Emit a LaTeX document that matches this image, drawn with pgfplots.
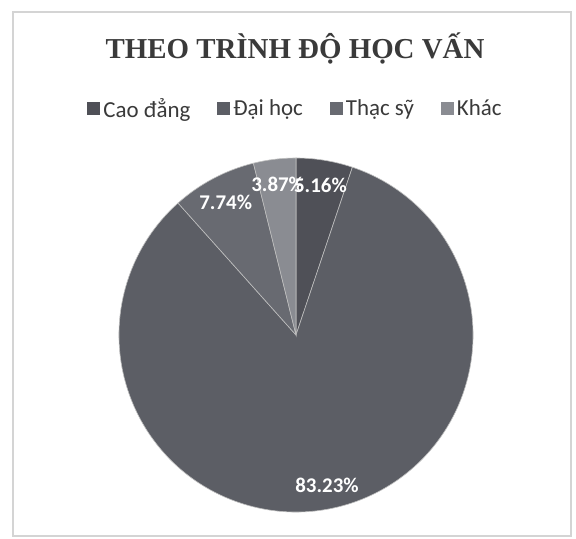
\documentclass[border=0pt]{standalone}
\usepackage{fontspec}
\setmainfont{Carlito}
\newfontfamily\titlefont{Liberation Serif}
\usepackage{pgfplots}
\pgfplotsset{compat=1.18}
\definecolor{caodang}{HTML}{4F5057}
\definecolor{daihoc}{HTML}{5C5E65}
\definecolor{thacsy}{HTML}{686A71}
\definecolor{khac}{HTML}{8A8C92}
\definecolor{framegray}{HTML}{D4D4D4}
\definecolor{textgray}{HTML}{3A3A3A}

\begin{document}
\begin{tikzpicture}[
    slice/.style={draw=white!50!gray,line width=0.6bp},
    lbl/.style={text=white,font=\bfseries\fontsize{21}{24}\selectfont},
  ]
  \useasboundingbox (0,0) rectangle (576bp,539bp);
  \fill[white] (0,0) rectangle (576bp,539bp);
  \draw[framegray,line width=1.2bp] (13bp,3bp) rectangle (571bp,527bp);
  \node[font=\titlefont\bfseries\fontsize{29}{32}\selectfont,text=textgray]
    at (295bp,491bp) {THEO TRÌNH ĐỘ HỌC VẤN};

  % pie: shares in percent, clockwise from 12 o'clock
  \begin{axis}[
    at={(296bp,204bp)}, anchor=center,
    x=177bp, y=177bp, xmin=-1, xmax=1, ymin=-1, ymax=1,
    hide axis, clip=false,
    legend columns=4,
    legend style={draw=none,fill=none,at={(0.5,1.14)},anchor=center,
                  font=\fontsize{23}{26}\selectfont,text=textgray,
                  nodes={inner xsep=3bp},
                  /tikz/every even column/.append style={column sep=24bp}},
    legend image code/.code={\fill[#1,draw=none] (0bp,-6.5bp) rectangle (13bp,6.5bp);},
  ]
    \addlegendimage{fill=caodang}
    \addlegendimage{fill=daihoc}
    \addlegendimage{fill=thacsy}
    \addlegendimage{fill=khac}
    \legend{Cao đẳng,Đại học,Thạc sỹ,Khác}

    \fill[caodang,slice] (axis cs:0,0) -- ++(90:177bp)
      arc[start angle=90,end angle={90-3.6*5.16},radius=177bp] -- cycle;
    \fill[daihoc,slice] (axis cs:0,0) -- ++({90-3.6*5.16}:177bp)
      arc[start angle={90-3.6*5.16},end angle={90-3.6*88.39},radius=177bp] -- cycle;
    \fill[thacsy,slice] (axis cs:0,0) -- ++({90-3.6*88.39}:177bp)
      arc[start angle={90-3.6*88.39},end angle={90-3.6*96.13},radius=177bp] -- cycle;
    \fill[khac,slice] (axis cs:0,0) -- ++({90-3.6*96.13}:177bp)
      arc[start angle={90-3.6*96.13},end angle={90-3.6*100},radius=177bp] -- cycle;

    \node[lbl] at (axis cs:{0.855*cos(80.71)},{0.855*sin(80.71)}) {5.16\%};
    \node[lbl] at (axis cs:{0.87*cos(-78.39)},{0.87*sin(-78.39)}) {83.23\%};
    \node[lbl] at (axis cs:{0.85*cos(117.86)},{0.85*sin(117.86)}) {7.74\%};
    \node[lbl] at (axis cs:{0.855*cos(96.97)},{0.855*sin(96.97)}) {3.87\%};
  \end{axis}
\end{tikzpicture}
\end{document}
